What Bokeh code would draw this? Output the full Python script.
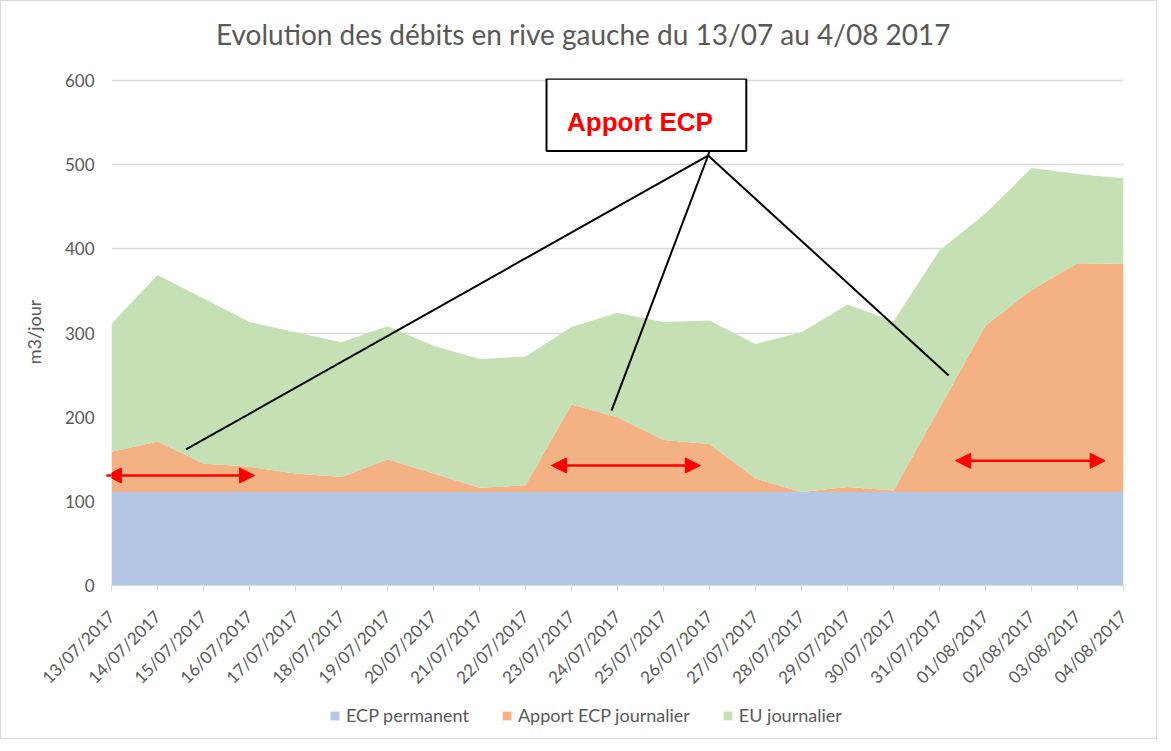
import math
import numpy as np
from bokeh.plotting import figure
from bokeh.layouts import column
from bokeh.models import (ColumnDataSource, FixedTicker, Legend, LegendItem, Arrow,
                          NormalHead, Range1d, Div)
from bokeh.core.properties import value
from bokeh.embed import file_html
from bokeh.resources import INLINE

# ---------------- data ----------------
dates = ["13/07/2017", "14/07/2017", "15/07/2017", "16/07/2017", "17/07/2017",
         "18/07/2017", "19/07/2017", "20/07/2017", "21/07/2017", "22/07/2017",
         "23/07/2017", "24/07/2017", "25/07/2017", "26/07/2017", "27/07/2017",
         "28/07/2017", "29/07/2017", "30/07/2017", "31/07/2017", "01/08/2017",
         "02/08/2017", "03/08/2017", "04/08/2017"]
ecp_permanent = [111, 111, 111, 111, 111, 111, 111, 111, 111, 111, 111, 111,
                 111, 111, 111, 111, 111, 111, 111, 111, 111, 111, 111]
apport_ecp = [48, 60, 34, 30, 22, 18, 39, 22, 5, 8, 104, 89, 62, 57, 16, 0,
              6, 2, 100, 198, 240, 272, 271]
eu_journalier = [152, 198, 196, 172, 168, 160, 158, 152, 153, 153, 92, 124,
                 140, 147, 160, 190, 217, 201, 187, 133, 145, 106, 102]
series_names = ["ECP permanent", "Apport ECP journalier", "EU journalier"]
y_ticks = [0, 100, 200, 300, 400, 500, 600]

title_text = "Evolution des débits en rive gauche du 13/07 au 4/08 2017"
y_label = "m3/jour"
callout_text = "Apport ECP"

colors = ["#B4C7E7", "#F4B183", "#C5E0B4"]
GREY = "#595959"
GRID = "#D9D9D9"
FONT = "Lato"

x_idx = list(range(len(dates)))
source = ColumnDataSource(dict(x=x_idx, ecp=ecp_permanent, apport=apport_ecp, eu=eu_journalier))

W = 1155

# title block
title_div = Div(text=("<div style=\"font-family:Lato;font-size:28px;color:#595959;"
                      "line-height:1;padding-left:215px;padding-top:19px;white-space:nowrap\">"
                      + title_text + "</div>"),
                width=W, height=50, margin=0)

p = figure(width=W, height=650, output_backend="svg", toolbar_location=None,
           x_range=Range1d(0, len(dates) - 1), y_range=Range1d(0, 602.4),
           min_border_left=110, min_border_right=33, min_border_top=27,
           min_border_bottom=116)
p.outline_line_color = None

# stacked areas
rends = p.varea_stack(["ecp", "apport", "eu"], x="x", source=source, color=colors)

# axes
xa = p.xaxis[0]
xa.ticker = FixedTicker(ticks=x_idx)
xa.major_label_overrides = {i: d for i, d in enumerate(dates)}
xa.major_label_orientation = math.pi / 4
xa.major_label_text_font = FONT
xa.major_label_text_font_size = "17px"
xa.major_label_text_color = GREY
xa.axis_line_color = GRID
xa.major_tick_line_color = GRID
xa.major_tick_out = 6
xa.major_tick_in = 0
xa.minor_tick_line_color = None
xa.major_label_standoff = 22

ya = p.yaxis[0]
ya.ticker = FixedTicker(ticks=y_ticks)
ya.axis_line_color = None
ya.major_tick_line_color = None
ya.minor_tick_line_color = None
ya.major_label_text_font = FONT
ya.major_label_text_font_size = "17px"
ya.major_label_text_color = GREY
ya.major_label_standoff = 11
ya.axis_label = y_label
ya.axis_label_text_font = FONT
ya.axis_label_text_font_size = "18px"
ya.axis_label_text_font_style = "normal"
ya.axis_label_text_color = GREY
ya.axis_label_standoff = 17

p.xgrid.grid_line_color = None
p.ygrid.grid_line_color = GRID
p.ygrid.grid_line_width = 1.5

# callout box and lines
p.quad(left=[9.457], right=[13.80], bottom=[516.4], top=[602.0],
       fill_color="white", line_color="black", line_width=2)
p.text(x=[9.904], y=[550.5], text=[callout_text], text_font=value("Liberation Sans"),
       text_font_style="bold", text_font_size="26px", text_color="#FF0000",
       text_baseline="middle", text_align="left")
apex_x, apex_y = 12.97, 510.9
p.segment(x0=[apex_x, apex_x, apex_x, apex_x], y0=[apex_y, apex_y, apex_y, apex_y],
          x1=[1.62, 10.87, 18.2, 13.0], y1=[161.6, 207.9, 249.5, 516.4],
          line_color="black", line_width=2)

# red double arrows
for (xs, xe, yv) in [(-0.11, 3.11, 130.7), (9.565, 12.80, 142.6), (18.35, 21.6, 148.2)]:
    p.add_layout(Arrow(x_start=xs, y_start=yv, x_end=xe, y_end=yv,
                       line_color="#FF0000", line_width=2.5,
                       start=NormalHead(size=15, fill_color="#FF0000", line_color="#FF0000"),
                       end=NormalHead(size=15, fill_color="#FF0000", line_color="#FF0000")))

# legend strip (separate small figure so the legend is not clipped);
# its x range is set away from the data so the areas themselves stay out of view
pl = figure(width=W, height=37, output_backend="svg", toolbar_location=None,
            x_range=Range1d(1000, 1001), y_range=Range1d(0, 1), min_border=0)
pl.axis.visible = False
pl.grid.visible = False
pl.outline_line_color = None
leg_rends = pl.varea_stack(["ecp", "apport", "eu"], x="x", source=source, color=colors)
legend = Legend(items=[LegendItem(label=n, renderers=[r]) for n, r in zip(series_names, leg_rends)],
                orientation="horizontal", location=(218, 12))
legend.glyph_width = 11
legend.glyph_height = 11
legend.label_text_font = FONT
legend.label_text_font_size = "18px"
legend.label_text_color = GREY
legend.spacing = 32
legend.label_standoff = 6
legend.padding = 5
legend.margin = 0
legend.border_line_color = None
legend.background_fill_alpha = 0
pl.add_layout(legend, "center")

layout = column(title_div, p, pl, spacing=0, styles={"border": "1px solid #D9D9D9"})

open("out.html", "w").write(file_html(layout, INLINE))
